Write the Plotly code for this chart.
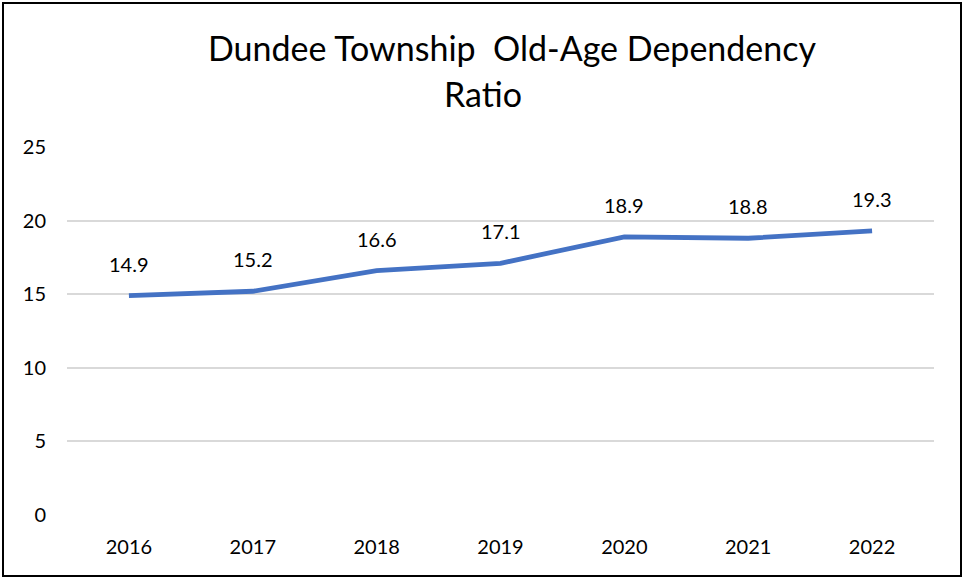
import plotly.graph_objects as go

years = ["2016", "2017", "2018", "2019", "2020", "2021", "2022"]
ratio = [14.9, 15.2, 16.6, 17.1, 18.9, 18.8, 19.3]
labels = ["14.9", "15.2", "16.6", "17.1", "18.9", "18.8", "19.3"]
y_ticks = [0, 5, 10, 15, 20, 25]
title_line1 = "Dundee Township  Old-Age Dependency"
title_line2 = "Ratio"

FONT = "Lato"

fig = go.Figure()
fig.add_trace(go.Scatter(
    x=years, y=ratio, mode="lines",
    line=dict(color="#4472C4", width=4.8),
    hoverinfo="skip", showlegend=False,
))

for i, (y, t) in enumerate(zip(ratio, labels)):
    fig.add_annotation(x=i, y=y, text=t, showarrow=False, yshift=32,
                       font=dict(family=FONT, size=20, color="#000000"))

fig.add_annotation(xref="paper", yref="paper", x=(512 - 67) / 867, y=(515 - 48) / 368,
                   text=title_line1, showarrow=False, xanchor="center", yanchor="middle",
                   font=dict(family=FONT, size=34, color="#000000"))
fig.add_annotation(xref="paper", yref="paper", x=(483 - 67) / 867, y=(515 - 94) / 368,
                   text=title_line2, showarrow=False, xanchor="center", yanchor="middle",
                   font=dict(family=FONT, size=34, color="#000000"))

fig.update_layout(
    width=963, height=578,
    margin=dict(l=67, r=29, t=147, b=63),
    paper_bgcolor="white", plot_bgcolor="white",
    font=dict(family=FONT, size=20, color="#000000"),
    xaxis=dict(type="category", range=[-0.5, 6.5], showgrid=False, showline=False,
               zeroline=False, ticks="", ticklabelstandoff=18,
               tickfont=dict(family=FONT, size=20, color="#000000")),
    yaxis=dict(range=[0, 25], tickvals=y_ticks, showgrid=True, gridcolor="#d9d9d9",
               gridwidth=1.5, zeroline=False, showline=False, ticks="",
               ticklabelstandoff=20,
               tickfont=dict(family=FONT, size=20, color="#000000")),
    shapes=[dict(type="rect", xref="paper", yref="paper",
                 x0=-64 / 867, x1=1 + 27 / 867, y0=-61 / 368, y1=1 + 144 / 368,
                 line=dict(color="#000000", width=2), fillcolor="rgba(0,0,0,0)",
                 layer="above")],
)

fig.write_html("out.html", config={"displayModeBar": False},
               post_script="document.body.style.margin='0';document.body.style.padding='0';")
